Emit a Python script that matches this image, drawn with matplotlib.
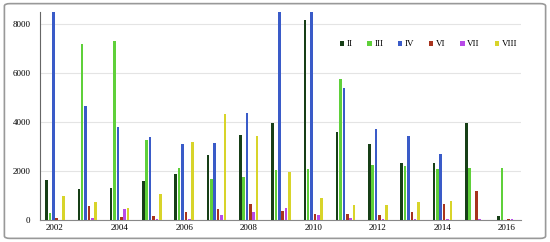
import matplotlib
matplotlib.use("Agg")
import matplotlib.pyplot as plt
import numpy as np
from matplotlib.patches import FancyBboxPatch

years = list(range(2002, 2017))
series_names = ["II", "III", "IV", "VI", "VII", "VIII"]
s_II   = [1620, 1265, 1320, 1590, 1880, 2640, 3470, 3970, 8160, 3590, 3100, 2325, 2340, 3960, 165]
s_III  = [300, 7190, 7300, 3250, 2130, 1670, 1755, 2030, 2080, 5765, 2245, 2215, 2095, 2135, 2110]
s_IV   = [8600, 4650, 3820, 3400, 3100, 3150, 4370, 8600, 8600, 5385, 3730, 3440, 2705, 0, 0]
s_VI   = [70, 560, 135, 175, 325, 460, 650, 380, 260, 245, 204, 313, 650, 1185, 60]
s_VII  = [0, 95, 460, 55, 60, 200, 325, 490, 200, 95, 40, 50, 60, 50, 60]
s_VIII = [980, 735, 490, 1075, 3170, 4340, 3430, 1945, 885, 625, 625, 720, 775, 0, 0]
x_ticks = [2002, 2004, 2006, 2008, 2010, 2012, 2014, 2016]
y_ticks = [0, 2000, 4000, 6000, 8000]

colors = ["#173f17", "#5fd03a", "#3a5bc8", "#a8341e", "#b84ae8", "#d8d42a"]
data = [s_II, s_III, s_IV, s_VI, s_VII, s_VIII]

plt.rcParams['font.family'] = ['Liberation Serif', 'DejaVu Serif']

fig = plt.figure(figsize=(5.5, 2.42), dpi=100)
border = FancyBboxPatch((0.008, 0.015), 0.984, 0.97, boxstyle="round,pad=0,rounding_size=0.01",
                        transform=fig.transFigure, fill=False, edgecolor="#999999", linewidth=1.2)
fig.patches.append(border)

ax = fig.add_axes([0.073, 0.091, 0.874, 0.859])
x = np.array(years, dtype=float)
step = 0.105
w = 0.08
for i, (vals, c, name) in enumerate(zip(data, colors, series_names)):
    ax.bar(x + (i - 2.5) * step, vals, width=w, color=c, label=name, zorder=3)

ax.set_xlim(2001.54, 2016.43)
ax.set_ylim(0, 8500)
ax.set_xticks(x_ticks)
ax.set_yticks(y_ticks)
ax.tick_params(axis='x', labelsize=6.5, length=0, pad=3)
ax.tick_params(axis='y', labelsize=6.5, length=0, pad=7)
ax.grid(axis='y', color="#e4e4e4", linewidth=0.8, zorder=0)
for s in ["top", "right"]:
    ax.spines[s].set_visible(False)
ax.spines["left"].set_color("#666666")
ax.spines["bottom"].set_color("#888888")
ax.spines["left"].set_linewidth(0.8)
ax.spines["bottom"].set_linewidth(0.8)

leg = ax.legend(ncol=6, loc="center right", bbox_to_anchor=(1.005, 0.845), frameon=False,
                fontsize=6.5, handlelength=0.45, handleheight=0.45, handletextpad=0.3,
                columnspacing=1.65, borderpad=0.2)

fig.savefig("out.png", dpi=100)
